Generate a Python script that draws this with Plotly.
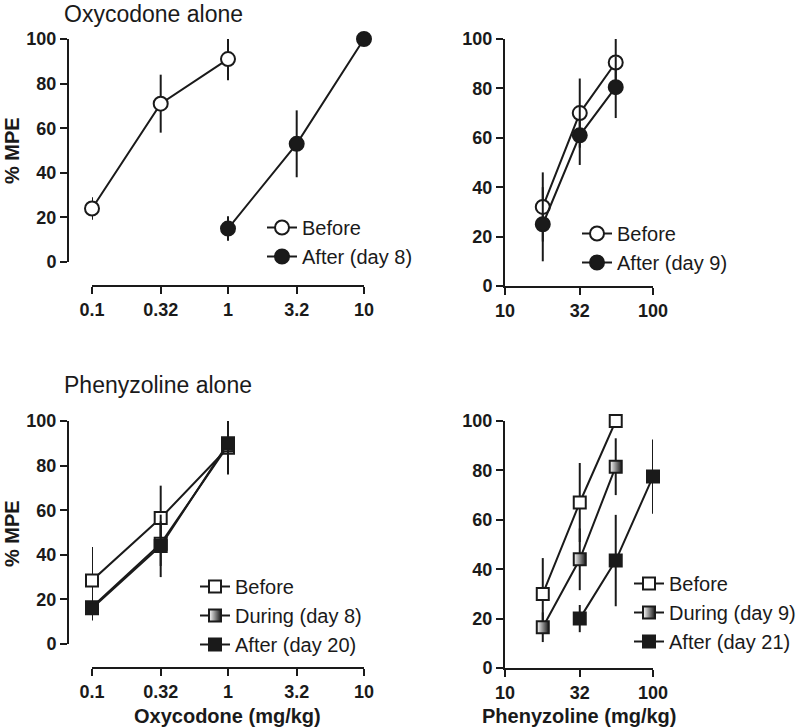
import plotly.graph_objects as go

# ---------------- data ----------------
# Top-left: Oxycodone alone (oxycodone dose-response)
oxy_before_dose = [0.1, 0.32, 1]
oxy_before_mpe = [24, 71, 91]
oxy_before_err = [5, 13, 9.5]
oxy_after_dose = [1, 3.2, 10]
oxy_after_mpe = [15, 53, 100]
oxy_after_err = [5.5, 15, 0]

# Top-right: Oxycodone alone (phenyzoline dose-response)
phz_dose = [18, 32, 56]
phz_before_mpe = [32, 70, 90.5]
phz_before_err = [14, 14, 9.5]
phz_after_mpe = [25, 61, 80.5]
phz_after_err = [15, 12, 12.5]

# Bottom-left: Phenyzoline alone (oxycodone dose-response)
pz_oxy_dose = [0.1, 0.32, 1]
pz_oxy_before = [28.5, 56.5, 88]
pz_oxy_before_err = [15, 14.5, 12]
pz_oxy_during = [16.5, 45, 89]
pz_oxy_during_err = [6, 10, 8]
pz_oxy_after = [16, 44, 90]
pz_oxy_after_err = [5, 14, 10]

# Bottom-right: Phenyzoline alone (phenyzoline dose-response)
pz_phz_before_dose = [18, 32, 56]
pz_phz_before = [30, 67, 100]
pz_phz_before_err = [14.5, 16, 0]
pz_phz_during_dose = [18, 32, 56]
pz_phz_during = [16.5, 44, 81.5]
pz_phz_during_err = [6, 12.5, 11.5]
pz_phz_after_dose = [32, 56, 100]
pz_phz_after = [20, 43.5, 77.5]
pz_phz_after_err = [5.5, 18.5, 15]

oxy_ticks = [0.1, 0.32, 1, 3.2, 10]
oxy_ticktext = ["0.1", "0.32", "1", "3.2", "10"]
phz_ticks = [10, 32, 100]
phz_ticktext = ["10", "32", "100"]
mpe_ticks = [0, 20, 40, 60, 80, 100]

# ---------------- styling ----------------
W, H = 800, 728
INK = "#1a1a1a"
FONT = "Liberation Sans, Arial, sans-serif"

def px_x(p):
    return p / W

def px_y(p):
    return 1 - p / H

def marker(kind, size):
    base = dict(size=size, line=dict(color=INK, width=2))
    if kind == "open_circle":
        base.update(symbol="circle", color="white")
    elif kind == "filled_circle":
        base.update(symbol="circle", color=INK)
    elif kind == "open_square":
        base.update(symbol="square", color="white")
    elif kind == "half_square":
        base.update(symbol="square", color="white",
                    gradient=dict(type="horizontal", color=INK))
    elif kind == "filled_square":
        base.update(symbol="square", color=INK)
    return base

fig = go.Figure()

def add(x, y, err, name, kind, size, xa, ya, legend):
    fig.add_trace(go.Scatter(
        x=x, y=y, name=name, mode="lines+markers",
        xaxis=xa, yaxis=ya, legend=legend,
        line=dict(color=INK, width=2),
        marker=marker(kind, size),
        error_y=dict(type="data", array=err, visible=True,
                     color=INK, thickness=2, width=0),
        cliponaxis=False,
    ))

add(oxy_before_dose, oxy_before_mpe, oxy_before_err, "Before", "open_circle", 14, "x", "y", "legend")
add(oxy_after_dose, oxy_after_mpe, oxy_after_err, "After (day 8)", "filled_circle", 14, "x", "y", "legend")

add(phz_dose, phz_before_mpe, phz_before_err, "Before", "open_circle", 14, "x2", "y2", "legend2")
add(phz_dose, phz_after_mpe, phz_after_err, "After (day 9)", "filled_circle", 14, "x2", "y2", "legend2")

add(pz_oxy_dose, pz_oxy_before, pz_oxy_before_err, "Before", "open_square", 12, "x3", "y3", "legend3")
add(pz_oxy_dose, pz_oxy_during, pz_oxy_during_err, "During (day 8)", "half_square", 12, "x3", "y3", "legend3")
add(pz_oxy_dose, pz_oxy_after, pz_oxy_after_err, "After (day 20)", "filled_square", 12, "x3", "y3", "legend3")

add(pz_phz_before_dose, pz_phz_before, pz_phz_before_err, "Before", "open_square", 12, "x4", "y4", "legend4")
add(pz_phz_during_dose, pz_phz_during, pz_phz_during_err, "During (day 9)", "half_square", 12, "x4", "y4", "legend4")
add(pz_phz_after_dose, pz_phz_after, pz_phz_after_err, "After (day 21)", "filled_square", 12, "x4", "y4", "legend4")

tickfont = dict(family=FONT, size=18, color=INK, weight="bold")
axis_common = dict(showgrid=False, zeroline=False, showline=True, linecolor=INK,
                   linewidth=2, ticks="outside", ticklen=7, tickwidth=2,
                   tickcolor=INK, tickfont=tickfont, fixedrange=True,
                   automargin=False)

def xaxis_oxy(position):
    return dict(axis_common, type="log", range=[-1, 1],
                domain=[px_x(92), px_x(364)], anchor="free", position=position,
                tickvals=oxy_ticks, ticktext=oxy_ticktext)

def xaxis_phz(anchor):
    return dict(axis_common, type="log", range=[1, 2],
                domain=[px_x(505), px_x(653)], anchor=anchor,
                tickvals=phz_ticks, ticktext=phz_ticktext)

def yaxis(domain, **kw):
    return dict(axis_common, range=[0, 100], domain=domain, tickvals=mpe_ticks, **kw)

legend_font = dict(family=FONT, size=20, color=INK)

def legend_at(xp, yp):
    return dict(x=px_x(xp), y=px_y(yp), xanchor="left", yanchor="top",
                font=legend_font, bgcolor="rgba(0,0,0,0)", borderwidth=0,
                itemclick=False, itemdoubleclick=False, tracegroupgap=0)

fig.update_layout(
    width=W, height=H, autosize=False,
    margin=dict(l=0, r=0, t=0, b=0, pad=0, autoexpand=False),
    paper_bgcolor="white", plot_bgcolor="white",
    font=dict(family=FONT, color=INK),
    showlegend=True,
    xaxis=xaxis_oxy(px_y(286)),
    yaxis=yaxis([px_y(262), px_y(39)], anchor="free", position=px_x(68)),
    xaxis2=xaxis_phz("y2"),
    yaxis2=yaxis([px_y(286), px_y(39)], anchor="x2"),
    xaxis3=xaxis_oxy(px_y(668)),
    yaxis3=yaxis([px_y(644), px_y(421)], anchor="free", position=px_x(68)),
    xaxis4=xaxis_phz("y4"),
    yaxis4=yaxis([px_y(668), px_y(421)], anchor="x4"),
    legend=legend_at(262, 208),
    legend2=legend_at(577, 214),
    legend3=legend_at(195, 567),
    legend4=legend_at(629, 564),
)

ann_font_title = dict(family=FONT, size=23, color=INK)
ann_font_axis = dict(family=FONT, size=20, color=INK, weight="bold")
annotations = [
    dict(text="Oxycodone alone", x=px_x(62), y=px_y(14), xanchor="left", yanchor="middle",
         font=ann_font_title),
    dict(text="Phenyzoline alone", x=px_x(62), y=px_y(385), xanchor="left", yanchor="middle",
         font=ann_font_title),
    dict(text="% MPE", x=px_x(12), y=px_y(151), xanchor="center", yanchor="middle",
         textangle=-90, font=ann_font_axis),
    dict(text="% MPE", x=px_x(12), y=px_y(534), xanchor="center", yanchor="middle",
         textangle=-90, font=ann_font_axis),
    dict(text="Oxycodone (mg/kg)", x=px_x(228), y=px_y(716), xanchor="center", yanchor="middle",
         font=ann_font_axis),
    dict(text="Phenyzoline (mg/kg)", x=px_x(579), y=px_y(716), xanchor="center", yanchor="middle",
         font=ann_font_axis),
]
for a in annotations:
    a.update(xref="paper", yref="paper", showarrow=False)
fig.update_layout(annotations=annotations)

fig.write_html("out.html", config=dict(displayModeBar=False),
               post_script="document.body.style.margin='0';document.body.style.overflow='hidden';")
